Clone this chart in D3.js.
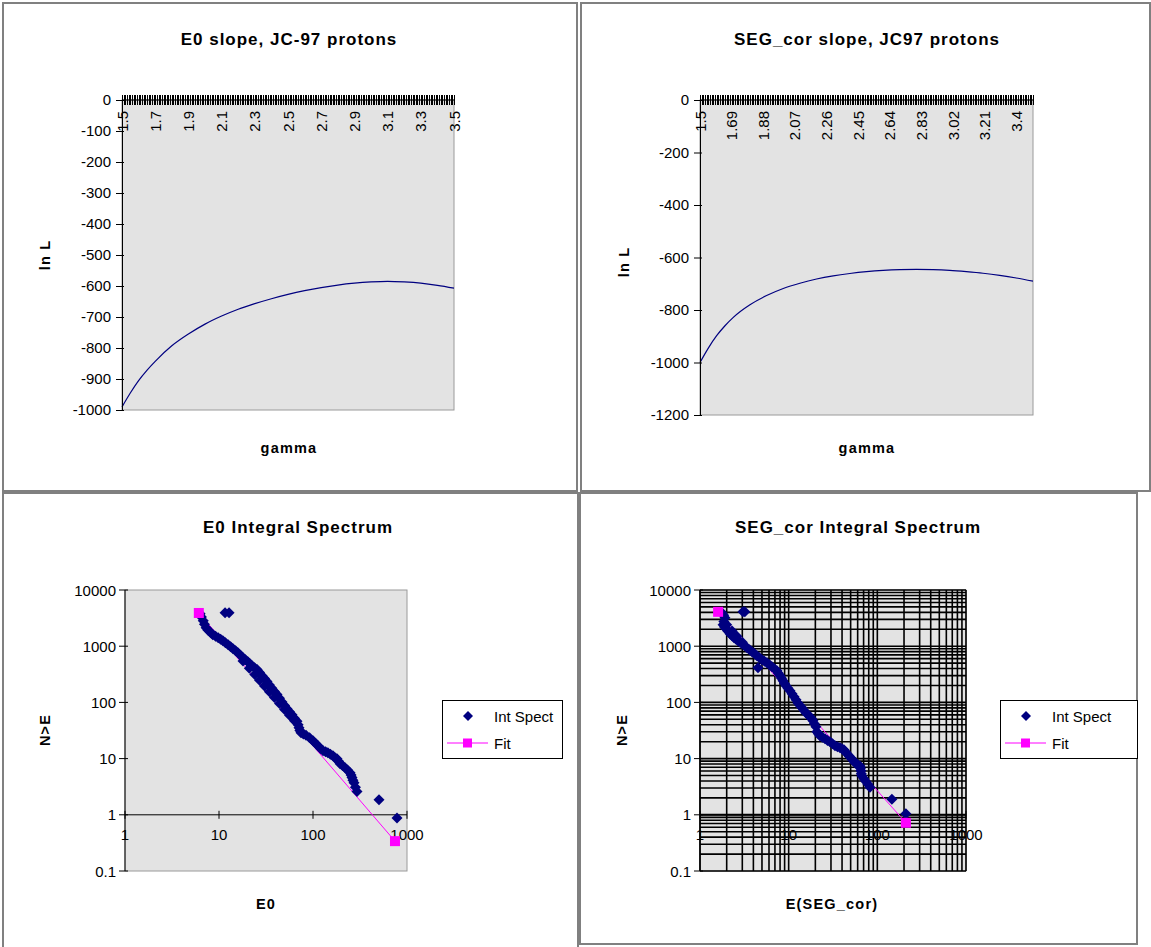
<!DOCTYPE html>
<html>
<head>
<meta charset="utf-8">
<script src="https://cdn.jsdelivr.net/npm/d3@7"></script>
<style>
body { margin: 0; background: #fff; }
text { font-family: Arial, "Liberation Sans", sans-serif; fill: #000; }
</style>
</head>
<body>
<script>
// values

// top left: E0 slope
const gammaE0 = [1.5, 1.55, 1.6, 1.65, 1.7, 1.8, 1.9, 2.0, 2.1, 2.2, 2.3, 2.4, 2.5, 2.6, 2.7, 2.8, 2.9, 3.0, 3.1, 3.2, 3.3, 3.4, 3.5]
const lnLE0 = [-990, -945, -905, -872, -843, -793, -755, -723, -697, -675, -657, -641, -627, -615, -605, -597, -591, -587, -585, -587, -591, -598, -607]
const gammaLabelsE0 = ["1.5", "1.7", "1.9", "2.1", "2.3", "2.5", "2.7", "2.9", "3.1", "3.3", "3.5"]
const lnLTicksE0 = [0, -100, -200, -300, -400, -500, -600, -700, -800, -900, -1000]

// top right: SEG_cor slope
const gammaSEG = [1.5, 1.55, 1.6, 1.65, 1.7, 1.8, 1.9, 2.0, 2.1, 2.2, 2.3, 2.4, 2.5, 2.6, 2.7, 2.8, 2.9, 3.0, 3.1, 3.2, 3.3, 3.4, 3.5]
const lnLSEG = [-1000, -945, -898, -860, -828, -780, -745, -718, -698, -682, -670, -661, -654, -649, -646, -645, -646, -649, -654, -660, -668, -678, -690]
const gammaLabelsSEG = ["1.5", "1.69", "1.88", "2.07", "2.26", "2.45", "2.64", "2.83", "3.02", "3.21", "3.4"]
const lnLTicksSEG = [0, -200, -400, -600, -800, -1000, -1200]

// bottom left: E0 integral spectrum (E, N>E)
const specE0 = [6.3, 6.5, 6.8, 7.0, 7.3, 7.6, 8.0, 8.3, 8.6, 9.2, 9.8, 10.4, 11.0, 11.7, 12.5, 13.3, 14.1, 15.0, 15.9, 16.9, 18.0, 19.1, 20.3, 21.3, 22.4, 23.9, 25.4, 27.0, 28.7, 30.5, 32.4, 34.4, 36.6, 38.9, 41.4, 44, 46.8, 49.8, 52.9, 56.2, 59.8, 63.5, 67.6, 69.5, 71.0, 72.5, 74.5, 79, 84.3, 92, 100, 106, 113, 120, 128, 136, 144, 153, 163, 171, 180, 187, 194, 206, 219, 233, 248, 254, 260, 266, 273, 283, 294, 504, 783, 11.6, 12.8,
    18, 21, 24, 27, 30.5, 34.4, 38.9, 44, 49.8, 56.2, 63.5]
const specNE0 = [3780, 3300, 2830, 2450, 2120, 1950, 1800, 1700, 1600, 1500, 1410, 1330, 1250, 1150, 1060, 975, 900, 830, 763, 690, 622, 575, 528, 488, 448, 415, 385, 340, 297, 265, 236, 205, 178, 156, 138, 118, 102, 88, 77, 68, 60, 52, 46, 40, 35.3, 31.5, 28.8, 27.5, 26, 23.5, 20.7, 18.8, 16.9, 15.2, 13.8, 13.2, 12.7, 12, 11.2, 10.4, 9.9, 9, 8.1, 7.5, 6.9, 6.3, 5.6, 5.1, 4.6, 4.1, 3.7, 3.1, 2.6, 1.85, 0.88, 3930, 3930,
    546, 405, 313, 248, 196, 155, 122, 96, 75, 59, 47]
const fitE0 = [6.1, 745]
const fitNE0 = [3900, 0.34]

// bottom right: SEG_cor integral spectrum (E, N>E)
const specSEG = [1.77, 1.85, 1.91, 1.86, 1.82, 1.89, 1.96, 2.07, 2.18, 2.3, 2.42, 2.55, 2.68, 2.83, 2.98, 3.18, 3.39, 3.62, 3.86, 4.12, 4.39, 4.69, 5.0, 5.33, 5.69, 6.07, 6.48, 6.9, 7.38, 7.67, 7.98, 8.3, 8.63, 8.97, 9.33, 9.83, 10.35, 10.9, 11.5, 12.1, 12.7, 13.4, 14.1, 14.9, 15.7, 16.5, 17.4, 18.1, 18.8, 19.5, 20.3, 20.8, 21.6, 22.5, 24, 25.7, 27.4, 29.2, 31.2, 33.3, 35.5, 37.9, 39.9, 42, 43.7, 45.4, 47.8, 50.4, 53.1, 55.9, 59.6, 63.6, 64.5, 65.3, 66, 67, 70.5, 74.3, 78.3, 82.6, 146, 210, 4.51, 3.05, 3.2,
    2.0, 2.3, 2.6, 3.0]
const specNSEG = [3930, 3550, 3200, 2750, 2400, 2200, 2040, 1840, 1660, 1530, 1410, 1330, 1250, 1170, 1100, 1015, 937, 862, 795, 732, 675, 622, 573, 540, 507, 467, 430, 397, 365, 330, 297, 268, 242, 218, 197, 178, 161, 142, 126, 111, 98, 88, 80, 72, 65, 60, 55.5, 51, 47, 41.5, 36.8, 30, 27.6, 25.5, 23.9, 22.5, 21.1, 19.9, 18.3, 16.9, 16.2, 15.6, 14.9, 14.3, 13.2, 12.2, 11.2, 10.3, 9.3, 8.4, 7.9, 7.4, 6.7, 6.1, 5.4, 4.9, 4.4, 3.9, 3.5, 3.1, 1.9, 1.04, 413, 4090, 4090,
    2400, 1860, 1500, 1170]
const fitSEG = [1.6, 210]
const fitNSEG = [4090, 0.72]

const logTicks = [0.1, 1, 10, 100, 1000, 10000]
const logTickLabels = ["0.1", "1", "10", "100", "1000", "10000"]
const xLogTicks = [1, 10, 100, 1000]

const plotBg = "#e3e3e3", navy = "#000080", magenta = "#ff00ff"

const svg = d3.select('body').append('svg')
    .attr('width', 1151)
    .attr('height', 947)

// chart frames
const frames = [[3, 3, 574, 488], [581, 3, 569, 488], [3, 493, 575, 470], [580, 493, 557, 451]]
svg.append("g").selectAll("rect")
    .data(frames)
    .enter()
    .append("rect")
    .attr("x", d => d[0]).attr("y", d => d[1])
    .attr("width", d => d[2]).attr("height", d => d[3])
    .attr("fill", "none")
    .attr("stroke", "#808080")
    .attr("stroke-width", 2)

function title(txt, cx, cy) {
    svg.append("text").attr("x", cx).attr("y", cy)
        .attr("text-anchor", "middle")
        .attr("font-size", 17).attr("font-weight", "bold")
        .attr("letter-spacing", 1)
        .text(txt)
}
function axisTitle(txt, cx, cy, rotate) {
    svg.append("text")
        .attr("transform", `translate(${cx},${cy})` + (rotate ? " rotate(-90)" : ""))
        .attr("text-anchor", "middle")
        .attr("dominant-baseline", "central")
        .attr("font-size", 14.5).attr("font-weight", "bold")
        .attr("letter-spacing", 1.2)
        .text(txt)
}

// likelihood vs gamma charts, category-like axis on top
function slopeChart(o) {
    const x = d3.scaleLinear().domain([1.5, 3.5]).range([o.x0, o.x1])
    const y = d3.scaleLinear().domain([0, o.ymin]).range([o.y0, o.y1])
    const g = svg.append("g")

    g.append("rect").attr("x", o.x0).attr("y", o.y0)
        .attr("width", o.x1 - o.x0).attr("height", o.y1 - o.y0)
        .attr("fill", plotBg).attr("stroke", "#9a9a9a")

    g.append("path")
        .datum(o.gx.map((v, i) => [v, o.gy[i]]))
        .attr("fill", "none").attr("stroke", navy).attr("stroke-width", 1.2)
        .attr("d", d3.line().x(d => x(d[0])).y(d => y(d[1])).curve(d3.curveMonotoneX))

    // y axis
    const ya = g.append("g").attr("transform", `translate(${o.x0},0)`)
        .call(d3.axisLeft(y).tickValues(o.yticks).tickSize(6).tickFormat(d => String(d)))
    ya.select(".domain").attr("stroke", "#000")
    ya.selectAll("text").attr("font-size", 15).attr("font-family", "Arial, 'Liberation Sans', sans-serif").attr("x", -11)
    ya.selectAll("line").attr("x2", -6).attr("x1", 2)

    // top axis: a tick per 0.01 step
    g.append("line").attr("x1", o.x0).attr("x2", o.x1).attr("y1", o.y0).attr("y2", o.y0).attr("stroke", "#000")
    g.append("g").selectAll("line")
        .data(x.ticks(200))
        .enter()
        .append("line")
        .attr("x1", d => Math.round(x(d)) + 0.5).attr("x2", d => Math.round(x(d)) + 0.5)
        .attr("y1", o.y0 - 5).attr("y2", o.y0 + 5)
        .attr("stroke", "#000")
    g.append("g").selectAll("text")
        .data(o.labels)
        .enter()
        .append("text")
        .attr("transform", d => `translate(${x(+d)},${o.y0 + 11}) rotate(-90)`)
        .attr("text-anchor", "end")
        .attr("dominant-baseline", "central")
        .attr("font-size", 15)
        .text(d => d)

    title(o.title, o.tx, 45)
    axisTitle("ln L", o.lx, o.ly, true)
    axisTitle("gamma", o.tx, 448, false)
}

slopeChart({x0: 122, x1: 454, y0: 100, y1: 410, ymin: -1000, gx: gammaE0, gy: lnLE0,
    yticks: lnLTicksE0, labels: gammaLabelsE0, title: "E0 slope, JC-97 protons", tx: 289, lx: 45, ly: 255})
slopeChart({x0: 700, x1: 1033, y0: 100, y1: 415, ymin: -1200, gx: gammaSEG, gy: lnLSEG,
    yticks: lnLTicksSEG, labels: gammaLabelsSEG, title: "SEG_cor slope, JC97 protons", tx: 867, lx: 624, ly: 262})

// integral spectra on log-log axes
const diamond = "M0,-5.5L5.5,0L0,5.5L-5.5,0Z"
function specChart(o) {
    const x = d3.scaleLog().domain([1, 1000]).range([o.x0, o.x1])
    const y = d3.scaleLog().domain([0.1, 10000]).range([o.y1, o.y0])
    const g = svg.append("g")

    g.append("rect").attr("x", o.x0).attr("y", o.y0)
        .attr("width", o.x1 - o.x0).attr("height", o.y1 - o.y0)
        .attr("fill", plotBg).attr("stroke", "#9a9a9a")

    if (o.grid) {
        g.append("g").selectAll("line")
            .data(y.ticks())
            .enter()
            .append("line")
            .attr("x1", o.x0).attr("x2", o.x1)
            .attr("y1", d => y(d)).attr("y2", d => y(d))
            .attr("stroke", "#000").attr("stroke-width", 1.6)
        g.append("g").selectAll("line")
            .data(x.ticks())
            .enter()
            .append("line")
            .attr("y1", o.y0).attr("y2", o.y1)
            .attr("x1", d => x(d)).attr("x2", d => x(d))
            .attr("stroke", "#000").attr("stroke-width", 1.6)
    }

    // y axis
    g.append("line").attr("x1", o.x0).attr("x2", o.x0).attr("y1", o.y0).attr("y2", o.y1).attr("stroke", "#000")
    g.append("g").selectAll("line")
        .data(logTicks)
        .enter()
        .append("line")
        .attr("x1", o.x0 - 6).attr("x2", o.x0 + 3)
        .attr("y1", d => y(d)).attr("y2", d => y(d))
        .attr("stroke", "#000")
    g.append("g").selectAll("text")
        .data(logTicks)
        .enter()
        .append("text")
        .attr("x", o.x0 - 9).attr("y", d => y(d))
        .attr("text-anchor", "end").attr("dominant-baseline", "central")
        .attr("font-size", 15)
        .text((d, i) => logTickLabels[i])

    // x axis crossing at N = 1
    const ax = y(1)
    g.append("line").attr("x1", o.x0).attr("x2", o.x1).attr("y1", ax).attr("y2", ax)
        .attr("stroke", "#000").attr("stroke-width", o.grid ? 2 : 1)
    g.append("g").selectAll("line")
        .data(xLogTicks)
        .enter()
        .append("line")
        .attr("x1", d => x(d)).attr("x2", d => x(d))
        .attr("y1", ax - 4).attr("y2", ax + 4)
        .attr("stroke", "#000")
    g.append("g").selectAll("text")
        .data(xLogTicks)
        .enter()
        .append("text")
        .attr("x", d => x(d)).attr("y", ax + 20)
        .attr("text-anchor", "middle").attr("dominant-baseline", "central")
        .attr("font-size", 15)
        .text(d => d)

    // fit line + markers
    const fit = o.fx.map((v, i) => [v, o.fy[i]])
    g.append("path").datum(fit)
        .attr("fill", "none").attr("stroke", magenta).attr("stroke-width", 1)
        .attr("d", d3.line().x(d => x(d[0])).y(d => y(d[1])))

    // measured points
    g.append("g").selectAll("path")
        .data(o.sx.map((v, i) => [v, o.sy[i]]))
        .enter()
        .append("path")
        .attr("transform", d => `translate(${x(d[0])},${y(d[1])})`)
        .attr("d", diamond)
        .attr("fill", navy)

    g.append("g").selectAll("rect")
        .data(fit)
        .enter()
        .append("rect")
        .attr("x", d => x(d[0]) - 5).attr("y", d => y(d[1]) - 5)
        .attr("width", 10).attr("height", 10)
        .attr("fill", magenta)

    // legend
    const lg = g.append("g").attr("transform", `translate(${o.lgx},700)`)
    lg.append("rect").attr("x", 0.5).attr("y", 0.5).attr("width", o.lgw).attr("height", 58)
        .attr("fill", "#fff").attr("stroke", "#000")
    lg.append("path").attr("transform", "translate(26,16)").attr("d", "M0,-5L5,0L0,5L-5,0Z").attr("fill", navy)
    lg.append("line").attr("x1", 5).attr("x2", 46).attr("y1", 43).attr("y2", 43).attr("stroke", magenta)
    lg.append("rect").attr("x", 21).attr("y", 38.5).attr("width", 9).attr("height", 9).attr("fill", magenta)
    lg.append("text").attr("x", 52).attr("y", 16).attr("dominant-baseline", "central").attr("font-size", 15).text("Int Spect")
    lg.append("text").attr("x", 52).attr("y", 43).attr("dominant-baseline", "central").attr("font-size", 15).text("Fit")

    title(o.title, o.tx, 533)
    axisTitle("N>E", o.lx, 730, true)
    axisTitle(o.xt, o.xtx, 904, false)
}

specChart({x0: 125, x1: 407, y0: 590, y1: 871, sx: specE0, sy: specNE0, fx: fitE0, fy: fitNE0,
    grid: false, lgx: 442, lgw: 120, title: "E0 Integral Spectrum", tx: 298, lx: 45, xt: "E0", xtx: 266})
specChart({x0: 700, x1: 966, y0: 590, y1: 871, sx: specSEG, sy: specNSEG, fx: fitSEG, fy: fitNSEG,
    grid: true, lgx: 1000, lgw: 137, title: "SEG_cor Integral Spectrum", tx: 858, lx: 622, xt: "E(SEG_cor)", xtx: 832})
</script>
</body>
</html>
